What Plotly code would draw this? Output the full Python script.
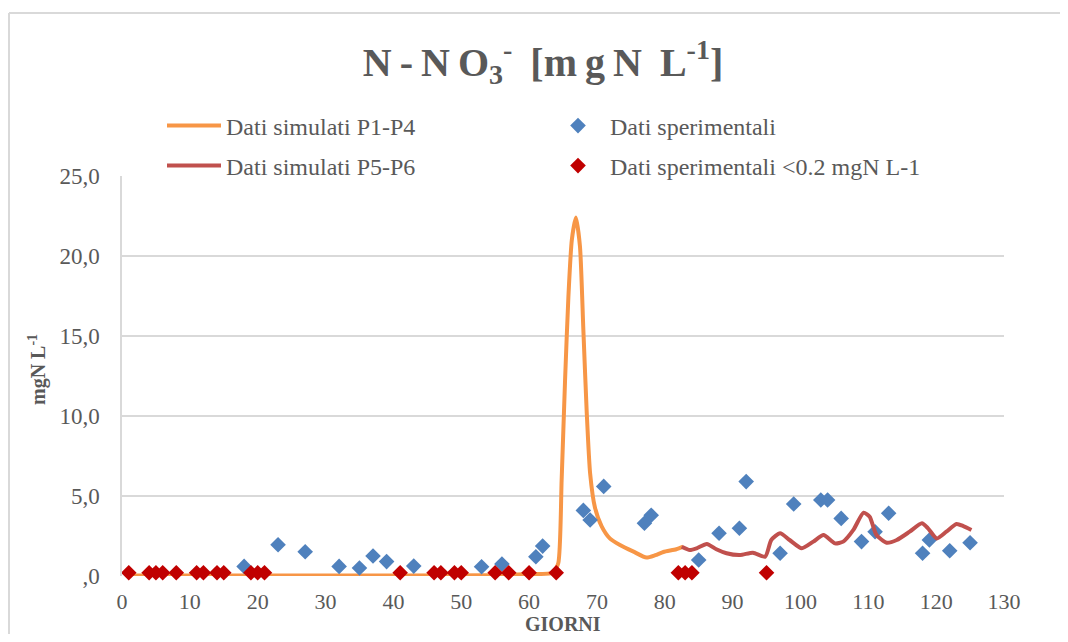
import plotly.graph_objects as go

# ---- data ----
sim14_days = [1, 30, 55, 60, 63.5, 64.3, 64.8, 65.3, 65.8, 66.3, 66.9, 67.5, 68.0, 68.5,
              69.0, 69.7, 70.7, 71.9, 73.4, 75.4, 77.3, 78.6, 79.8, 81.7, 82.7]
sim14_vals = [0.03, 0.03, 0.05, 0.12, 0.2, 0.8, 6.0, 12.2, 17.5, 21.0, 22.4, 20.6, 15.4, 10.2,
              6.4, 4.3, 3.1, 2.35, 1.94, 1.52, 1.15, 1.3, 1.5, 1.67, 1.83]

sim56_days = [82.5, 83.7, 84.7, 86.2, 87.6, 89.1, 91.1, 93.0, 94.8, 95.7, 97.0, 98.4, 100.2,
              101.9, 103.4, 105.1, 106.3, 107.8, 109.3, 110.2, 111.2, 112.7, 114.2, 116.1,
              117.9, 118.8, 120.1, 121.5, 123.0, 124.0, 125.2]
sim56_vals = [1.83, 1.62, 1.73, 2.0, 1.67, 1.42, 1.31, 1.46, 1.21, 2.25, 2.67, 2.25, 1.73,
              2.15, 2.56, 2.04, 2.15, 2.88, 3.96, 3.71, 2.56, 2.08, 2.25, 2.77,
              3.29, 2.98, 2.35, 2.77, 3.25, 3.12, 2.88]

exp_days = [18, 23, 27, 32, 35, 37, 39, 43, 53, 56, 61, 62, 68, 69, 71, 77, 78, 85,
            88, 91, 92, 97, 99, 103, 104, 106, 109, 111, 113, 118, 119, 122, 125]
exp_vals = [0.6, 1.95, 1.52, 0.6, 0.5, 1.25, 0.9, 0.62, 0.58, 0.75, 1.2, 1.87, 4.1, 3.5, 5.6,
            3.3, 3.8, 1.0, 2.67, 2.98, 5.9, 1.42, 4.5, 4.75, 4.75, 3.6, 2.15, 2.77, 3.92,
            1.42, 2.25, 1.58, 2.08]

low_days = [1, 4, 5, 6, 8, 11, 12, 14, 15, 19, 20, 21, 41, 46, 47, 49, 50, 55, 57, 60, 64,
            82, 83, 84, 95]
low_vals = [0.2] * len(low_days)

y_ticks = [0, 5, 10, 15, 20, 25]
y_tick_text = [",0", "5,0", "10,0", "15,0", "20,0", "25,0"]
x_ticks = [0, 10, 20, 30, 40, 50, 60, 70, 80, 90, 100, 110, 120, 130]

names = ["Dati simulati P1-P4", "Dati sperimentali", "Dati simulati P5-P6",
         "Dati sperimentali <0.2 mgN L-1"]
x_title = "GIORNI"
y_title = "mgN L<sup>-1</sup>"

# ---- styling ----
GRAY = "#595959"
FONT = "Liberation Serif"
OFF = 8  # page body margin
W, H = 1068 - 2 * OFF, 642 - 2 * OFF
L, T = 122 - OFF, 176 - OFF
R, B = W - (1004 - OFF), H - (576 - OFF)
pw, ph = W - L - R, H - T - B


def px_x(sx):
    return (sx - OFF - L) / pw


def px_y(sy):
    return (H - B - (sy - OFF)) / ph


fig = go.Figure()
fig.add_trace(go.Scatter(x=sim14_days, y=sim14_vals, mode="lines", name=names[0],
                         line=dict(color="#F79646", width=4, shape="spline", smoothing=0.6),
                         showlegend=True, legend="legend"))
fig.add_trace(go.Scatter(x=exp_days, y=exp_vals, mode="markers", name=names[1],
                         marker=dict(symbol="diamond", color="#4F81BD", size=12),
                         cliponaxis=False, showlegend=True, legend="legend2"))
fig.add_trace(go.Scatter(x=sim56_days, y=sim56_vals, mode="lines", name=names[2],
                         line=dict(color="#C0504D", width=4, shape="spline", smoothing=0.6),
                         showlegend=True, legend="legend3"))
fig.add_trace(go.Scatter(x=low_days, y=low_vals, mode="markers", name=names[3],
                         marker=dict(symbol="diamond", color="#C00000", size=12),
                         cliponaxis=False, showlegend=True, legend="legend4"))

legfont = dict(family=FONT, size=24, color=GRAY)
common = dict(font=legfont, bgcolor="rgba(0,0,0,0)", xanchor="left", yanchor="middle",
              orientation="v", itemwidth=54, visible=True)
fig.update_layout(
    showlegend=True,
    legend=dict(x=px_x(162), y=px_y(126), **common),
    legend2=dict(x=px_x(546), y=px_y(126), **common),
    legend3=dict(x=px_x(162), y=px_y(166), **common),
    legend4=dict(x=px_x(546), y=px_y(166), **common),
)

sp = "\u2009"
title_txt = sp.join(["N", "-", "N", "O"]) + "<sub>3</sub><sup>-</sup>" + sp + " [" + \
    sp.join(["m", "g", "N"]) + sp + " L<sup>-1</sup>]"

fig.update_layout(
    width=W, height=H,
    margin=dict(l=L, r=R, t=T, b=B, autoexpand=False),
    paper_bgcolor="white", plot_bgcolor="white",
    title=dict(text="<b>" + title_txt + "</b>", x=px_x(543), xanchor="center", xref="paper",
               y=1 - (62 - OFF) / H, yanchor="middle", yref="container",
               font=dict(family=FONT, size=40, color=GRAY)),
    xaxis=dict(range=[0, 130], tickvals=x_ticks, showgrid=False, zeroline=False,
               showline=False, ticks="", tickfont=dict(family=FONT, size=22, color=GRAY),
               ticklabelstandoff=10, automargin=False),
    yaxis=dict(range=[0, 25], tickvals=y_ticks, ticktext=y_tick_text, showgrid=True,
               gridcolor="#D9D9D9", gridwidth=1.5, zeroline=False, showline=True,
               linecolor="#D9D9D9", linewidth=1.5, ticks="", automargin=False,
               ticklabelstandoff=16,
               tickfont=dict(family=FONT, size=23, color=GRAY)),
    annotations=[
        dict(text="<b>" + x_title + "</b>", xref="paper", yref="paper",
             x=px_x(563), y=px_y(624), xanchor="center", yanchor="middle",
             showarrow=False, font=dict(family=FONT, size=20, color=GRAY)),
        dict(text="<b>" + y_title + "</b>", xref="paper", yref="paper",
             x=px_x(37), y=px_y(370), xanchor="center", yanchor="middle", textangle=-90,
             showarrow=False, font=dict(family=FONT, size=20, color=GRAY)),
    ],
    shapes=[
        dict(type="line", xref="paper", yref="paper", x0=px_x(9), x1=px_x(1070),
             y0=px_y(13), y1=px_y(13), line=dict(color="#D9D9D9", width=2)),
        dict(type="line", xref="paper", yref="paper", x0=px_x(9), x1=px_x(9),
             y0=px_y(13), y1=px_y(650), line=dict(color="#D9D9D9", width=2)),
    ],
)

fig.write_html("out.html")
